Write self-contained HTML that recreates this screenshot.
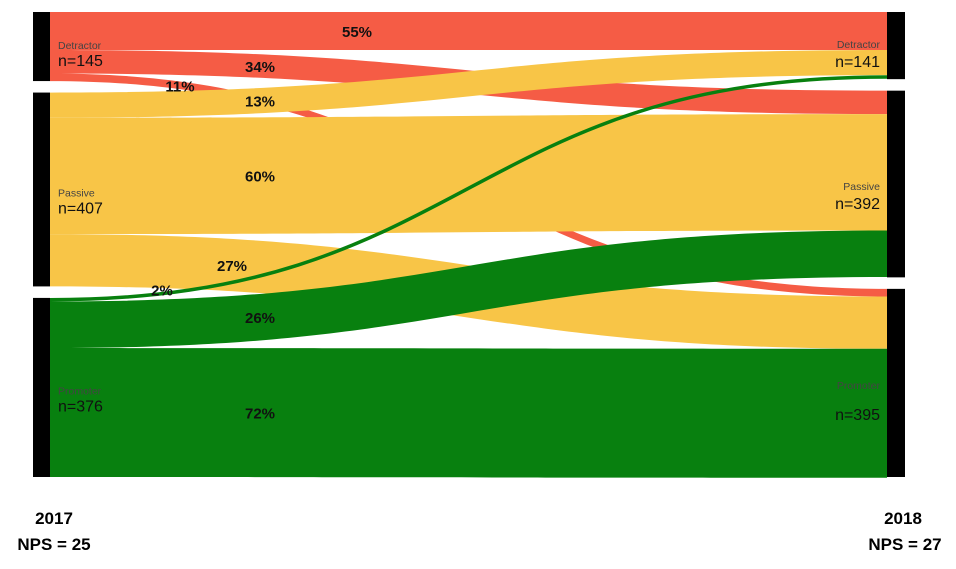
<!DOCTYPE html>
<html><head><meta charset="utf-8">
<style>
body{margin:0;background:#fff;}
svg{display:block;font-family:"Liberation Sans",sans-serif;}
</style></head>
<body>
<svg id="c" width="956" height="569"></svg>
<script>
const categories = ["Detractor","Passive","Promoter"];
const left_n = [145,407,376];
const right_n = [141,392,395];
// percentages from each 2017 group to each 2018 group (rows: source, cols: target)
const pct = [[55,34,11],[13,60,27],[2,26,72]];
const npsLabels = ["NPS = 25","NPS = 27"];
const years = ["2017","2018"];

const NS="http://www.w3.org/2000/svg";
const svgEl=document.getElementById('c');
function mk(t,a,p){const e=document.createElementNS(NS,t);for(const k in a)e.setAttribute(k,a[k]);(p||svgEl).appendChild(e);return e;}
const colors=["#f55c45","#f8c547","#08800f"];
const topY=12,gap=11.5,bottomY=477;
const total=left_n.reduce((a,b)=>a+b,0);
const scale=(bottomY-topY-2*gap)/total;
const xL=50,xR=887;
function nodePos(ns){let y=topY;return ns.map(n=>{const r={y0:y,y1:y+n*scale};y+=n*scale+gap;return r;});}
const L=nodePos(left_n),R=nodePos(right_n);
const flows=[];const lOff=L.map(n=>n.y0),rOff=R.map(n=>n.y0);
for(let s=0;s<3;s++)for(let t=0;t<3;t++){const v=left_n[s]*pct[s][t]/100;flows.push({s,t,v,p:pct[s][t]});}
flows.forEach(f=>{const h=f.v*scale;f.h=h;f.ly=lOff[f.s];lOff[f.s]+=h;});
for(let t=0;t<3;t++)for(let s=0;s<3;s++){const f=flows.find(q=>q.s==s&&q.t==t);f.ry=rOff[t];rOff[t]+=f.h;}
const xm=(xL+xR)/2;
function yAt(f,x,off){let lo=0,hi=1;for(let i=0;i<40;i++){const t=(lo+hi)/2;const X=xL*(1-t)**3+3*xm*(1-t)**2*t+3*xm*(1-t)*t*t+xR*t**3;if(X<x)lo=t;else hi=t;}const t=lo;const s=3*t*t-2*t*t*t;return (f.ly+off)+((f.ry+off)-(f.ly+off))*s;}
[0,1,2].forEach(c=>flows.filter(f=>f.s==c).forEach(f=>{
  if(f.h<6){
    const y0=f.ly+f.h/2,y1=f.ry+f.h/2;
    const p=mk('path',{d:`M${xL},${y0} C${xm},${y0} ${xm},${y1} ${xR},${y1}`,fill:'none',stroke:colors[f.s],'stroke-width':3.5});
    
    
    f.el=p;return;
  }
  const a=f.ly,b=f.ly+f.h,c2=f.ry,d=f.ry+f.h;
  const p=mk('path',{d:`M${xL},${a} C${xm},${a} ${xm},${c2} ${xR},${c2} L${xR},${d} C${xm},${d} ${xm},${b} ${xL},${b} Z`,fill:colors[f.s]});
  
  
}));
flows.filter(f=>f.el).forEach(f=>svgEl.appendChild(f.el));
L.forEach((n,i)=>{const r=mk('rect',{x:33,y:n.y0,width:17,height:n.y1-n.y0,fill:'#000'});
 
 
 const off=i==0?0:(n.y1-n.y0)/2-30;
 const t1=mk('text',{x:58,y:n.y0+off+37,'font-size':10.5,fill:'#444'});t1.textContent=categories[i];
 
 
 const t2=mk('text',{x:58,y:n.y0+off+54,'font-size':16,fill:'#111'});t2.textContent='n='+left_n[i];
 
 });
R.forEach((n,i)=>{const r=mk('rect',{x:887,y:n.y0,width:18,height:n.y1-n.y0,fill:'#000'});
 
 
 const off=i==0?0:(n.y1-n.y0)/2-30;
 const t1=mk('text',{x:880,y:n.y0+off+36,'font-size':10.5,fill:'#444','text-anchor':'end'});t1.textContent=categories[i];
 
 
 const t2=mk('text',{x:880,y:n.y0+off+55+(i==2?12:0),'font-size':16,fill:'#111','text-anchor':'end'});t2.textContent='n='+right_n[i];
 
 });
const labelX=[[357,260,180],[260,260,232],[162,260,260]];
flows.forEach(f=>{const x=labelX[f.s][f.t];let y=yAt(f,x,f.h/2)+6;
 if(f.h<6)y-=4;
 const t=mk('text',{x:x,y:y,'font-size':15,'font-weight':'bold',fill:'#111','text-anchor':'middle'});t.textContent=f.p+'%';
 
 });
[0,1].forEach(i=>{
 const t=mk('text',{x:i==0?54:903,y:524,'font-size':17,'font-weight':'bold',fill:'#000','text-anchor':'middle'});t.textContent=years[i];
 
 
 const t2=mk('text',{x:i==0?54:905,y:550,'font-size':17,'font-weight':'bold',fill:'#000','text-anchor':'middle'});t2.textContent=npsLabels[i];
 
 });
</script>
</body></html>
